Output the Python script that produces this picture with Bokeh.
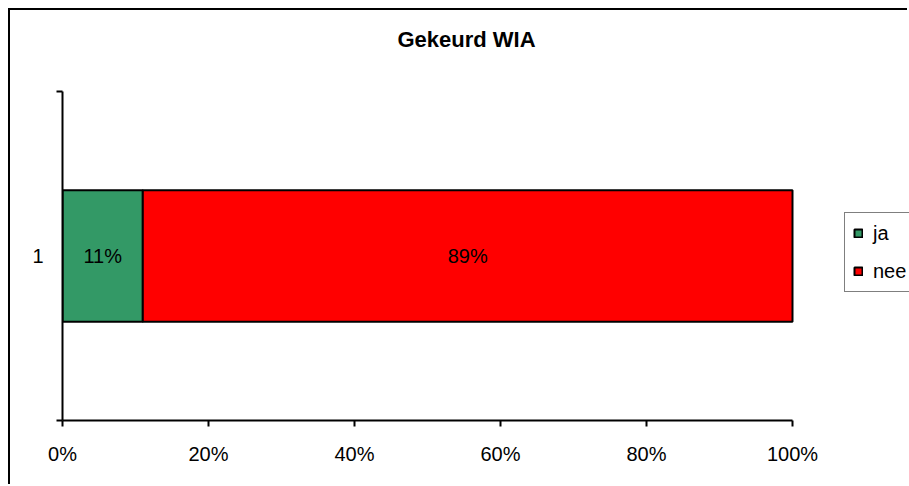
from bokeh.plotting import figure
from bokeh.models import (Range1d, FixedTicker, NumeralTickFormatter, Label, Legend,
                          LegendItem, ColumnDataSource)
from bokeh.embed import file_html
from bokeh.resources import INLINE

# ---- data ----
title_text = "Gekeurd WIA"
category = [1]
series_names = ["ja", "nee"]
ja_values = [0.11]
nee_values = [0.89]
series_colors = ["#339966", "#FF0000"]
x_ticks = [0.0, 0.2, 0.4, 0.6, 0.8, 1.0]

FONT = "Liberation Sans"

# layout (pixels): axes area 730 x 329; frame extended to canvas top/right so that
# title and legend (outside the axes) are not clipped
W, H = 899, 476
LEFT, BOTTOM = 52, 66
AX_W, AX_H = 730, 329
FRAME_W = W - LEFT
FRAME_H = H - BOTTOM

p = figure(width=W, height=H, output_backend="svg", toolbar_location=None,
           x_range=Range1d(0, FRAME_W / AX_W),
           y_range=Range1d(0.5, 0.5 + FRAME_H / AX_H),
           min_border_left=LEFT, min_border_right=0, min_border_top=0,
           min_border_bottom=BOTTOM)
# outer chart border: only its top and left edges lie inside the picture
p.styles = {"margin-left": "10px", "margin-top": "10px",
            "box-shadow": "-2px -2px 0px 0px black"}
p.outline_line_color = None
p.xgrid.visible = False
p.ygrid.visible = False
p.background_fill_color = "white"
p.border_fill_color = "white"

src = ColumnDataSource(dict(y=category, ja=ja_values, nee=nee_values))
rs = p.hbar_stack(series_names, y="y", height=0.4, source=src, color=series_colors,
                  line_color="black", line_width=2)

# bar value labels
left = 0.0
for name, vals in zip(series_names, [ja_values, nee_values]):
    v = vals[0]
    p.add_layout(Label(x=left + v / 2, y=category[0], text=f"{round(v * 100)}%",
                       text_align="center", text_baseline="middle",
                       text_font=FONT, text_font_size="20px", text_color="black"))
    left += v

# axes
xa = p.xaxis[0]
xa.bounds = (0, 1)
xa.ticker = FixedTicker(ticks=x_ticks, minor_ticks=[])
xa.formatter = NumeralTickFormatter(format="0%")
xa.major_tick_out = 6
xa.major_tick_in = 0
xa.axis_line_width = 2
xa.major_tick_line_width = 2
xa.axis_line_color = "black"
xa.major_tick_line_color = "black"
xa.major_label_text_font = FONT
xa.major_label_text_font_size = "20px"
xa.major_label_text_color = "black"
xa.major_label_standoff = 16

ya = p.yaxis[0]
ya.bounds = (0.5, 1.5)
ya.ticker = FixedTicker(ticks=category, minor_ticks=[0.5, 1.5])
ya.major_tick_out = 0
ya.major_tick_in = 0
ya.minor_tick_out = 6
ya.minor_tick_in = 0
ya.minor_tick_line_color = "black"
ya.minor_tick_line_width = 2
ya.axis_line_width = 2
ya.axis_line_color = "black"
ya.major_label_text_font = FONT
ya.major_label_text_font_size = "20px"
ya.major_label_text_color = "black"
ya.major_label_standoff = 13

# title
p.add_layout(Label(x=404, y=381, x_units="screen", y_units="screen", text=title_text,
                   text_align="center", text_baseline="alphabetic",
                   text_font=FONT, text_font_size="22px", text_font_style="bold",
                   text_color="black"))

# legend
legend = Legend(items=[LegendItem(label=n, renderers=[r]) for n, r in zip(series_names, rs)],
                location=(782, 128), orientation="vertical",
                label_text_font=FONT, label_text_font_size="20px", label_text_color="black",
                glyph_width=10, glyph_height=10, label_height=24, label_standoff=10,
                spacing=14, padding=8, margin=0,
                border_line_color="black", border_line_width=1.5,
                background_fill_color="white", background_fill_alpha=1)
p.add_layout(legend, "center")

open("out.html", "w").write(file_html(p, INLINE))
